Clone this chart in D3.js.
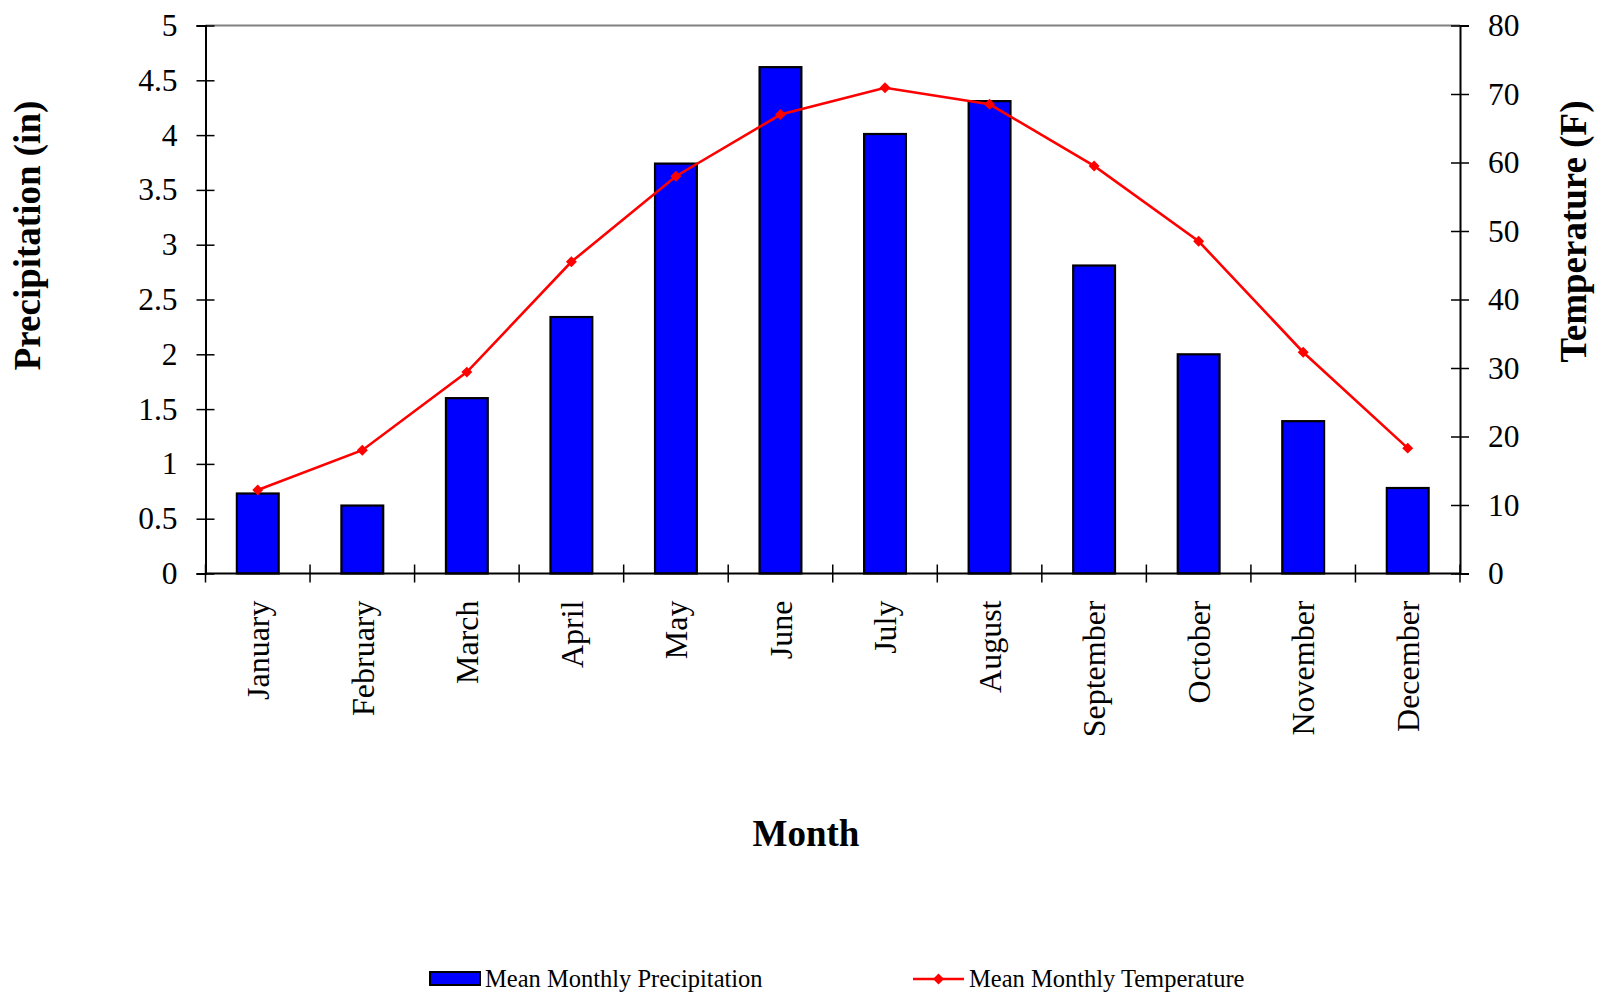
<!DOCTYPE html>
<html><head><meta charset="utf-8">
<script src="https://cdn.jsdelivr.net/npm/d3@7"></script>
<style>
html,body{margin:0;padding:0;background:#fff;}
svg{display:block;font-family:"Liberation Serif","Times New Roman",serif;}
</style></head>
<body><svg id="c" width="1612" height="1000"></svg>
<script>
const months = ["January","February","March","April","May","June","July","August","September","October","November","December"];
const precipitation = [0.73,0.62,1.60,2.34,3.74,4.62,4.01,4.31,2.81,2.00,1.39,0.78];
const temperature = [12.2,18.0,29.4,45.5,58.0,67.0,70.9,68.5,59.5,48.5,32.3,18.3];
const precipTicks = [0,0.5,1,1.5,2,2.5,3,3.5,4,4.5,5];
const tempTicks = [0,10,20,30,40,50,60,70,80];
const seriesNames = ["Mean Monthly Precipitation","Mean Monthly Temperature"];

const svg = d3.select("#c");
const L = 205.5, R = 1460, T = 25.5, B = 573.5;
const x = d3.scaleBand().domain(months).range([L, R]).padding(0);
const yL = d3.scaleLinear().domain([0,5]).range([B, T]);
const yR = d3.scaleLinear().domain([0,80]).range([B, T]);
const barW = x.bandwidth()*0.4;

// top border
svg.append("line").attr("x1",L).attr("x2",R).attr("y1",T).attr("y2",T)
  .attr("stroke","#808080").attr("stroke-width",2);

// bars
svg.append("g").selectAll("rect").data(months).join("rect")
  .attr("x", (d)=>x(d)+x.bandwidth()/2-barW/2)
  .attr("y", (d,i)=>yL(precipitation[i]))
  .attr("width", barW)
  .attr("height", (d,i)=>B-yL(precipitation[i]))
  .attr("fill","#0000FF").attr("stroke","#000").attr("stroke-width",2.2);

// left axis
const gl = svg.append("g").attr("transform",`translate(${L},0)`)
  .call(d3.axisLeft(yL).tickValues(precipTicks).tickFormat(d3.format("~g")).tickSize(9));
gl.select(".domain").attr("stroke","#000").attr("stroke-width",2);
gl.selectAll(".tick line").attr("x1",-9).attr("x2",9).attr("stroke","#000").attr("stroke-width",1.5);
gl.selectAll(".tick text").attr("x",-28).attr("font-size",31.5).attr("fill","#000")
  .attr("font-family","Liberation Serif");

// right axis
const gr = svg.append("g").attr("transform",`translate(${R},0)`)
  .call(d3.axisRight(yR).tickValues(tempTicks).tickSize(9));
gr.select(".domain").attr("stroke","#000").attr("stroke-width",2);
gr.selectAll(".tick line").attr("x1",-9).attr("x2",9).attr("stroke","#000").attr("stroke-width",1.5);
gr.selectAll(".tick text").attr("x",28).attr("font-size",31.5).attr("fill","#000")
  .attr("font-family","Liberation Serif");

// bottom axis
const gb = svg.append("g").attr("transform",`translate(0,${B})`)
  .call(d3.axisBottom(x).tickSize(0));
gb.select(".domain").remove();
gb.append("line").attr("x1",L).attr("x2",R).attr("y1",0).attr("y2",0)
  .attr("stroke","#000").attr("stroke-width",2);
const bounds = d3.range(months.length+1).map(i=>L+i*x.step());
gb.selectAll("line.bt").data(bounds).join("line").attr("class","bt")
  .attr("x1",d=>d).attr("x2",d=>d).attr("y1",-9).attr("y2",9)
  .attr("stroke","#000").attr("stroke-width",1.5);
gb.selectAll(".tick text")
  .attr("transform","rotate(-90)")
  .attr("x",-27).attr("y",0).attr("dy","0.35em")
  .attr("text-anchor","end")
  .attr("font-size",32).attr("fill","#000").attr("font-family","Liberation Serif");

// temperature line
const line = d3.line().x((d,i)=>x(months[i])+x.bandwidth()/2).y(d=>yR(d));
svg.append("path").datum(temperature).attr("d",line)
  .attr("fill","none").attr("stroke","#FF0000").attr("stroke-width",2.6);
const diamond = d3.symbol().type(d3.symbolSquare).size(60);
svg.append("g").selectAll("path").data(temperature).join("path")
  .attr("transform",(d,i)=>`translate(${x(months[i])+x.bandwidth()/2},${yR(d)}) rotate(45)`)
  .attr("d",diamond).attr("fill","#FF0000");

// axis titles
svg.append("text").attr("transform",`translate(40,${(T+B)/2-64}) rotate(-90)`)
  .attr("text-anchor","middle").attr("font-weight","bold").attr("font-size",37)
  .text("Precipitation (in)");
svg.append("text").attr("transform",`translate(1586,${(T+B)/2-68}) rotate(-90)`)
  .attr("text-anchor","middle").attr("font-weight","bold").attr("font-size",37)
  .text("Temperature (F)");
svg.append("text").attr("x",806).attr("y",846)
  .attr("text-anchor","middle").attr("font-weight","bold").attr("font-size",37)
  .text("Month");

// legend
const lg = svg.append("g");
lg.append("rect").attr("x",430).attr("y",972).attr("width",50).attr("height",13)
  .attr("fill","#0000FF").attr("stroke","#000").attr("stroke-width",2);
lg.append("text").attr("x",485).attr("y",987).attr("font-size",24.5).text(seriesNames[0]);
lg.append("line").attr("x1",913).attr("x2",964).attr("y1",979).attr("y2",979)
  .attr("stroke","#FF0000").attr("stroke-width",2.6);
lg.append("path").attr("transform","translate(938.5,979) rotate(45)").attr("d",diamond).attr("fill","#FF0000");
lg.append("text").attr("x",969).attr("y",987).attr("font-size",24.5).text(seriesNames[1]);
</script>
</body></html>
